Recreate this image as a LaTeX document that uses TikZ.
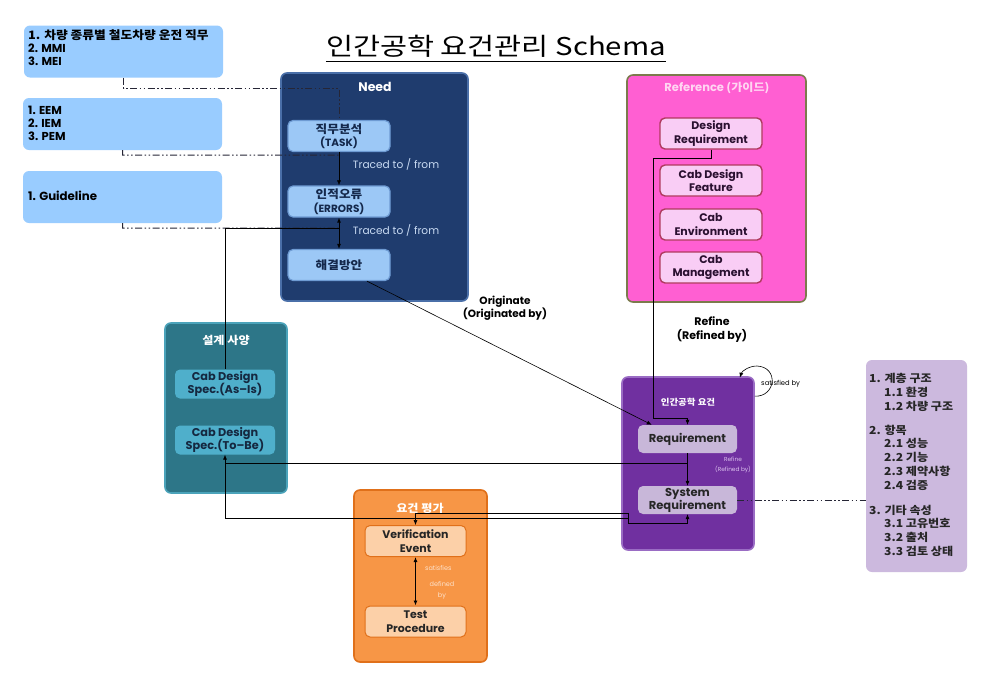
\documentclass[tikz,border=0pt]{standalone}
\usepackage{fontspec}
\setmainfont{Poppins}
\newfontfamily\kr{Noto Sans CJK KR}[FakeStretch=1.1]
\newfontfamily\krtitle{Noto Sans CJK KR}[FakeStretch=1.2]
\usetikzlibrary{arrows.meta,calc}
\newcommand{\krb}{\kr\bfseries}
\definecolor{tlblue}{HTML}{99CCFF}
\definecolor{needfill}{HTML}{1F3C6E}
\definecolor{neededge}{HTML}{4A6FA8}
\definecolor{needin}{HTML}{9CC8F6}
\definecolor{needinedge}{HTML}{6E9BD3}
\definecolor{needtxt}{HTML}{14284B}
\definecolor{tracetxt}{HTML}{C8DAF2}
\definecolor{reffill}{HTML}{FF5FD2}
\definecolor{refedge}{HTML}{7C7A4C}
\definecolor{refin}{HTML}{F9CDF5}
\definecolor{refinedge}{HTML}{B03A5E}
\definecolor{reftitle}{HTML}{FFD6F2}
\definecolor{reftxt}{HTML}{2A1030}
\definecolor{specfill}{HTML}{2D7688}
\definecolor{specedge}{HTML}{4BA3BA}
\definecolor{specin}{HTML}{4FAFCB}
\definecolor{spectxt}{HTML}{152840}
\definecolor{ergofill}{HTML}{7030A0}
\definecolor{ergoedge}{HTML}{9A6CC4}
\definecolor{ergoin}{HTML}{C8B7D9}
\definecolor{ergolbl}{HTML}{DCC2EE}
\definecolor{evalfill}{HTML}{F79646}
\definecolor{evaledge}{HTML}{E0701A}
\definecolor{evalin}{HTML}{FCD0A8}
\definecolor{evallbl}{HTML}{FDE2CC}
\definecolor{rbfill}{HTML}{CCB9DE}
\definecolor{ddcol}{HTML}{262636}
\tikzset{
  tlbox/.style={fill=tlblue, rounded corners=6pt, minimum width=199pt, minimum height=52pt},
  lefttxt/.style={anchor=north west, align=left, inner sep=0pt},
  container/.style={rounded corners=6pt, line width=1.6pt},
  needbox/.style={container, fill=needfill, draw=neededge},
  needinner/.style={fill=needin, draw=needinedge, line width=1.2pt, rounded corners=5pt, minimum width=102pt, minimum height=31pt, inner sep=1.5pt, align=center, text=needtxt, font=\bfseries\fontsize{10.5}{13.5}\selectfont},
  refbox/.style={container, fill=reffill, draw=refedge},
  refinner/.style={fill=refin, draw=refinedge, line width=1.4pt, rounded corners=5pt, minimum width=102pt, minimum height=31pt, inner sep=1.5pt, align=center, text=reftxt, font=\bfseries\fontsize{11}{13.5}\selectfont},
  specbox/.style={container, fill=specfill, draw=specedge},
  specinner/.style={fill=specin, rounded corners=5pt, minimum width=100pt, minimum height=29pt, inner sep=1.5pt, align=center, text=spectxt, font=\bfseries\fontsize{11.3}{13.5}\selectfont},
  ergobox/.style={container, fill=ergofill, draw=ergoedge},
  ergoinner/.style={fill=ergoin, rounded corners=5pt, minimum width=99pt, minimum height=28pt, inner sep=1.5pt, align=center, text=black!85, font=\bfseries\fontsize{11.5}{13}\selectfont},
  evalbox/.style={container, fill=evalfill, draw=evaledge},
  evalinner/.style={fill=evalin, draw=evaledge, line width=1pt, rounded corners=5pt, minimum width=101pt, minimum height=31pt, inner sep=1.5pt, align=center, text=black!85, font=\bfseries\fontsize{11}{14}\selectfont},
  boxtitle/.style={text=white, font=\krb\fontsize{11}{13}\selectfont},
  arr/.style={-{Latex[length=5pt,width=4pt]}, line width=0.6pt, black},
  dblarr/.style={{Latex[length=5pt,width=4pt]}-{Latex[length=5pt,width=4pt]}, line width=0.9pt, black},
  plain/.style={line width=0.6pt, black},
  dd/.style={ddcol, line width=1pt, dash pattern=on 7pt off 2.5pt on 1.5pt off 2.5pt on 1.5pt off 2.5pt},
  smalllbl/.style={font=\fontsize{6.5}{8}\selectfont, align=center, inner sep=0pt},
}
\begin{document}
\begin{tikzpicture}[x=1pt,y=-1pt]
\useasboundingbox (0,0) rectangle (986,673);
\fill[white] (0,0) rectangle (986,673);

% title
\node[inner sep=0pt, font=\krtitle\fontsize{24.5}{28}\selectfont] (title) at (496,46) {인간공학 요건관리 Schema};
\draw[line width=1.1pt] ($(title.south west)+(0,4)$) -- ($(title.south east)+(0,4)$);

% top-left boxes
\node[tlbox] (b1) at (123.5,51.5) {};
\node[lefttxt, font=\bfseries\fontsize{11.5}{12.8}\selectfont] (b1t) at (28,29.5) {{\krb\fontsize{11.6}{12.8}\selectfont 1. 차량 종류별 철도차량 운전 직무}\\2. MMI\\3. MEI};
\node[tlbox] (b2) at (122.5,124) {};
\node[lefttxt, font=\bfseries\fontsize{11.5}{13}\selectfont] (b2t) at (28,106) {1. EEM\\2. IEM\\3. PEM};
\node[tlbox] (b3) at (122.5,197) {};
\node[anchor=west, inner sep=0pt, font=\bfseries\fontsize{11.8}{13}\selectfont] (b3t) at (28,196) {1. Guideline};

% Need
\node[needbox, minimum width=187pt, minimum height=228pt] (need) at (374.5,187) {};
\node[text=white, font=\bfseries\fontsize{12.5}{14}\selectfont] (needt) at (375,87) {Need};
\node[needinner] (task) at (339,136) {{\krb\fontsize{11.5}{13.5}\selectfont 직무분석}\\(TASK)};
\node[needinner] (errors) at (339,201.5) {{\krb\fontsize{11.5}{13.5}\selectfont 인적오류}\\(ERRORS)};
\node[needinner] (sol) at (339,265) {{\krb\fontsize{11.5}{13.5}\selectfont 해결방안}};
\node[text=tracetxt, font=\fontsize{10.6}{12}\selectfont, inner sep=0pt] (tr1) at (396,164) {Traced to / from};
\node[text=tracetxt, font=\fontsize{10.6}{12}\selectfont, inner sep=0pt] (tr2) at (396,230) {Traced to / from};

% Reference
\node[refbox, minimum width=179pt, minimum height=227pt] (ref) at (716.5,188.5) {};
\node[text=reftitle, font=\bfseries\fontsize{11.5}{13}\selectfont] (reft) at (717,88) {Reference {\krb\fontsize{11}{13}\selectfont (가이드)}};
\node[refinner] (dr) at (711,133.5) {Design\\Requirement};
\node[refinner] (cdf) at (711,180.5) {Cab Design\\Feature};
\node[refinner] (ce) at (711,224.5) {Cab\\Environment};
\node[refinner] (cm) at (711,267.5) {Cab\\Management};

% 설계 사양
\node[specbox, minimum width=122pt, minimum height=170pt] (spec) at (226,408) {};
\node[boxtitle] (spect) at (226,340) {설계 사양};
\node[specinner] (asis) at (225,384) {Cab Design\\Spec.(As--Is)};
\node[specinner] (tobe) at (225,440) {Cab Design\\Spec.(To--Be)};

% 인간공학 요건
\node[ergobox, minimum width=132pt, minimum height=173pt] (ergo) at (688,463.5) {};
\node[boxtitle, font=\krb\fontsize{8.6}{10}\selectfont] (ergot) at (688,402) {인간공학 요건};
\node[ergoinner] (req) at (687.5,439) {Requirement};
\node[ergoinner] (sysreq) at (687.5,500) {System\\Requirement};
\node[smalllbl, text=ergolbl, font=\fontsize{5.8}{10}\selectfont] (refl2) at (733,465) {Refine\\(Refined by)};

% 요건 평가
\node[evalbox, minimum width=133pt, minimum height=172pt] (eval) at (420.5,576) {};
\node[boxtitle] (evalt) at (420,508) {요건 평가};
\node[evalinner] (ve) at (415.5,541) {Verification\\Event};
\node[evalinner] (tp) at (415.5,621.5) {Test\\Procedure};
\node[smalllbl, text=evallbl, anchor=west] (sat) at (425,568) {satisfies};
\node[smalllbl, text=evallbl, font=\fontsize{6.5}{10.5}\selectfont] (defby) at (442,590.5) {defined\\by};

% right box
\node[fill=rbfill, rounded corners=6pt, minimum width=101pt, minimum height=212pt] (rb) at (916.5,466) {};
\node[lefttxt, font=\krb\fontsize{11}{13.8}\selectfont, text=black!85] (rbt) at (869,373) {1. 계층 구조\\
\hspace*{15pt}1.1 환경\\
\hspace*{15pt}1.2 차량 구조\\[10.3pt]
2. 항목\\
\hspace*{15pt}2.1 성능\\
\hspace*{15pt}2.2 기능\\
\hspace*{15pt}2.3 제약사항\\
\hspace*{15pt}2.4 검증\\[11pt]
3. 기타 속성\\
\hspace*{15pt}3.1 고유번호\\
\hspace*{15pt}3.2 출처\\
\hspace*{15pt}3.3 검토 상태};

% free labels
\node[font=\bfseries\fontsize{10.5}{12.5}\selectfont, align=center] (orig) at (505,308) {Originate\\(Originated by)};
\node[font=\bfseries\fontsize{11}{14}\selectfont, align=center] (refl) at (712,330) {Refine\\(Refined by)};
\node[font=\fontsize{6.8}{8}\selectfont, anchor=west, inner sep=0pt] (satby) at (761,384) {satisfied by};

% junction coordinates
\coordinate (j1) at (339,155);
\coordinate (j2) at (339,228);
\coordinate (j3) at (687.5,463);
\coordinate (j4) at (628,518);

% dash-dot connectors
\draw[dd] (b1.south) -- ++(0,11) -| (task.north);
\draw[dd] (b2.south) -- ++(0,5) -- (j1);
\draw[dd] (b3.south) -- ++(0,5) -- (j2);
\draw[dd] (sysreq.east) -- (sysreq.east -| rb.west);

% Need internal arrows
\draw[arr] (task.south) -- (errors.north);
\draw[dblarr] (errors.south) -- (sol.north);

% solid connectors
\draw[plain] (j2) -| (asis.north);
\draw[arr] (sol.330) -- ($(req.north west)+(14,0)$);
\draw[arr] (dr.south) |- (653,158) -- (653,418) -| (req.north);
\draw[arr] (req.south) -- (sysreq.north);
\draw[arr] (j3) -| (tobe.south);
\draw[plain] ($(tobe.south)+(0,8)$) |- (j4);
\draw[dblarr, line width=0.6pt] (ve.north) |- (628,513) -- (628,523) -| (sysreq.south);
\draw[dblarr] (ve.south) -- (tp.north);

% self loop
\draw[arr] ($(ergo.north east)+(0,20)$) .. controls (776,397) and (779,367) .. (757,366) .. controls (749,366) and (742,371) .. ($(ergo.north east)+(-15,1.5)$);
\end{tikzpicture}
\end{document}
